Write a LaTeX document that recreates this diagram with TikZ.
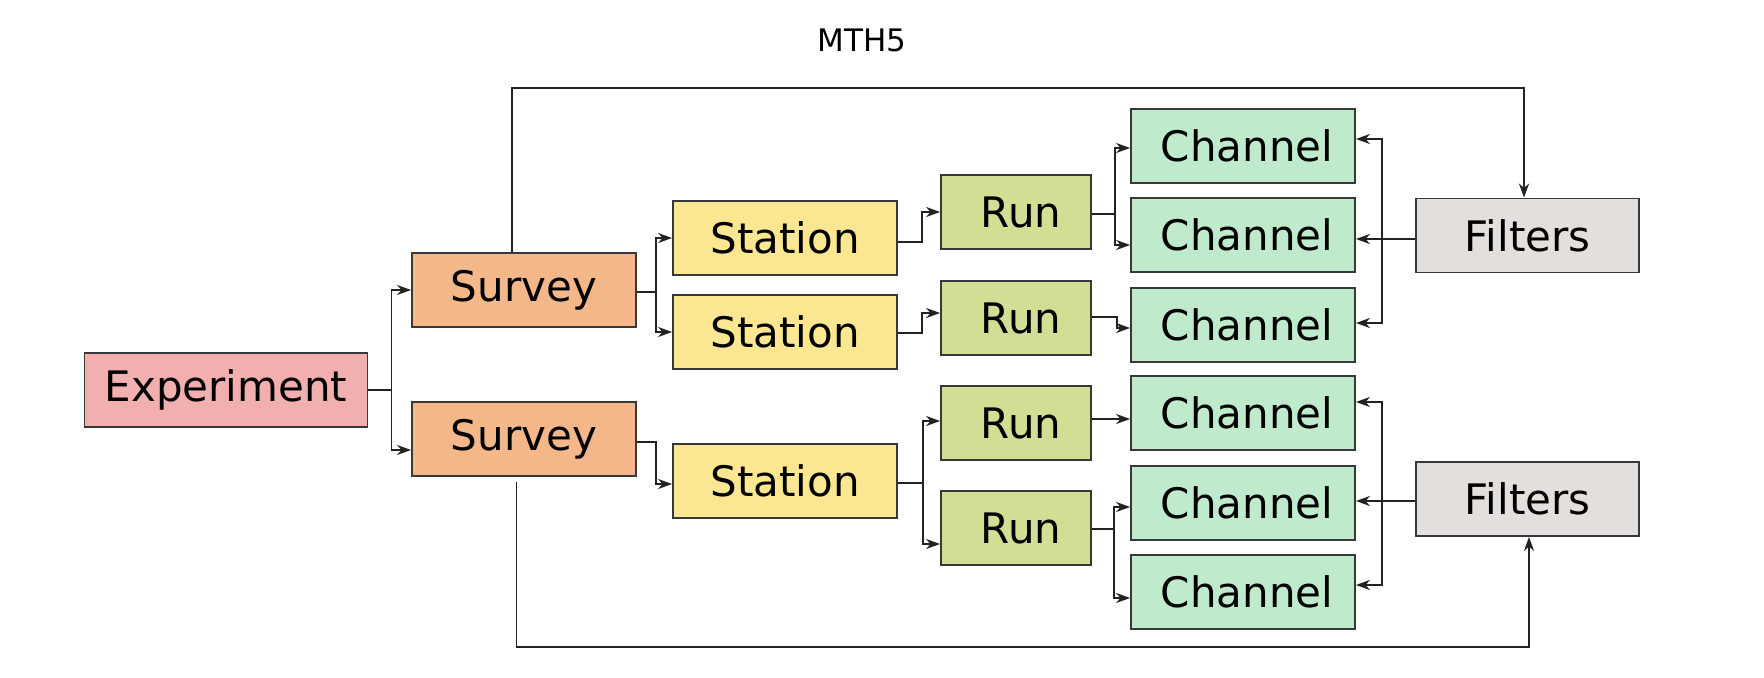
\documentclass[tikz,border=0pt]{standalone}
\usepackage{fontspec}
\setmainfont{DejaVu Sans}
\usetikzlibrary{arrows.meta}
\definecolor{cexp}{HTML}{F2AFB0}
\definecolor{csur}{HTML}{F4B78A}
\definecolor{csta}{HTML}{FBE791}
\definecolor{crun}{HTML}{D2DE94}
\definecolor{cch}{HTML}{BFEACC}
\definecolor{cfil}{HTML}{E3DFDD}
\definecolor{cline}{HTML}{222222}
\begin{document}
\begin{tikzpicture}[x=0.5pt,y=-0.5pt,
  box/.style={draw=cline!90,line width=0.9pt,minimum height=37pt,inner sep=0pt,
    font=\fontsize{21}{25}\selectfont},
  expbox/.style={box,fill=cexp,minimum width=141.5pt},
  surbox/.style={box,fill=csur,minimum width=112pt},
  stabox/.style={box,fill=csta,minimum width=112pt},
  runbox/.style={box,fill=crun,minimum width=75pt},
  chbox/.style={box,fill=cch,minimum width=112pt},
  filbox/.style={box,fill=cfil,minimum width=111.5pt},
  arr/.style={draw=cline,line width=0.9pt,-{Stealth[length=7pt,width=5pt,inset=2.2pt]}},
  ln/.style={draw=cline,line width=0.9pt}]
\useasboundingbox (0,0) rectangle (1764,678);
\node[font=\fontsize{15.5}{18}\selectfont] (title) at (862,40) {MTH5};
\node[expbox] (exp) at (226,390) {Experiment};
\node[surbox] (s1) at (524,290) {Survey};
\node[surbox] (s2) at (524,439) {Survey};
\node[stabox] (st1) at (785,238) {Station};
\node[stabox] (st2) at (785,332) {Station};
\node[stabox] (st3) at (785,481) {Station};
\node[runbox] (r1) at (1016,212) {\hspace{5pt}Run};
\node[runbox] (r2) at (1016,318) {\hspace{5pt}Run};
\node[runbox] (r3) at (1016,423) {\hspace{5pt}Run};
\node[runbox] (r4) at (1016,528) {\hspace{5pt}Run};
\node[chbox] (c1) at (1243,146) {\hspace{4pt}Channel};
\node[chbox] (c2) at (1243,235) {\hspace{4pt}Channel};
\node[chbox] (c3) at (1243,325) {\hspace{4pt}Channel};
\node[chbox] (c4) at (1243,413) {\hspace{4pt}Channel};
\node[chbox] (c5) at (1243,503) {\hspace{4pt}Channel};
\node[chbox] (c6) at (1243,592) {\hspace{4pt}Channel};
\node[filbox] (f1) at (1527.5,235.5) {Filters};
\node[filbox] (f2) at (1527.5,499) {Filters};
% experiment -> surveys
\draw[arr] (exp.east) -- ++(23,0) |- (s1.west);
\draw[arr] (exp.east) -- ++(23,0) |- ([yshift=-5.5pt]s2.west);
% surveys -> stations
\draw[arr] ([yshift=-1pt]s1.east) -- ++(19,0) |- (st1.west);
\draw[arr] ([yshift=-1pt]s1.east) -- ++(19,0) |- (st2.west);
\draw[arr] ([yshift=-1.5pt]s2.east) -- ++(19,0) |- ([yshift=-1.5pt]st3.west);
% stations -> runs
\draw[arr] ([yshift=-2pt]st1.east) -- ++(24,0) |- (r1.west);
\draw[arr] ([yshift=-0.5pt]st2.east) -- ++(24,0) |- ([yshift=2.5pt]r2.west);
\draw[arr] ([yshift=-1pt]st3.east) -- ++(25,0) |- ([yshift=1pt]r3.west);
\draw[arr] ([yshift=-1pt]st3.east) -- ++(25,0) |- ([yshift=-8pt]r4.west);
% runs -> channels
\draw[arr] ([yshift=-1pt]r1.east) -- ++(23,0) |- ([yshift=-1pt]c1.west);
\draw[arr] ([yshift=-1pt]r1.east) -- ++(23,0) |- ([yshift=-5pt]c2.west);
\draw[arr] ([yshift=0.5pt]r2.east) -- ++(25,0) |- ([yshift=-1.5pt]c3.west);
\draw[arr] ([yshift=2pt]r3.east) -- ([yshift=-3pt]c4.west);
\draw[arr] ([yshift=-0.5pt]r4.east) -- ++(22,0) |- ([yshift=-2pt]c5.west);
\draw[arr] ([yshift=-0.5pt]r4.east) -- ++(22,0) |- ([yshift=-3pt]c6.west);
% filters -> channels
\coordinate (b1) at ([xshift=-16.5pt,yshift=-1.75pt]f1.west);
\coordinate (b2) at ([xshift=-16.5pt,yshift=-1pt]f2.west);
\draw[arr] ([yshift=-1.75pt]f1.west) -- ([yshift=-2pt]c2.east);
\draw[arr] (b1) |- ([yshift=3.5pt]c1.east);
\draw[arr] (b1) |- ([yshift=1pt]c3.east);
\draw[arr] ([yshift=-1pt]f2.west) -- ([yshift=1pt]c5.east);
\draw[arr] (b2) |- ([yshift=5.5pt]c4.east);
\draw[arr] (b2) |- ([yshift=3.5pt]c6.east);
% surveys -> filters
\draw[arr] ([xshift=-6pt]s1.north) -- ++(0,-164) -| ([xshift=-1.75pt]f1.north);
\draw[arr] ([xshift=-3.75pt,yshift=-2.5pt]s2.south) -- ++(0,165) -| ([xshift=0.75pt]f2.south);
\end{tikzpicture}
\end{document}
